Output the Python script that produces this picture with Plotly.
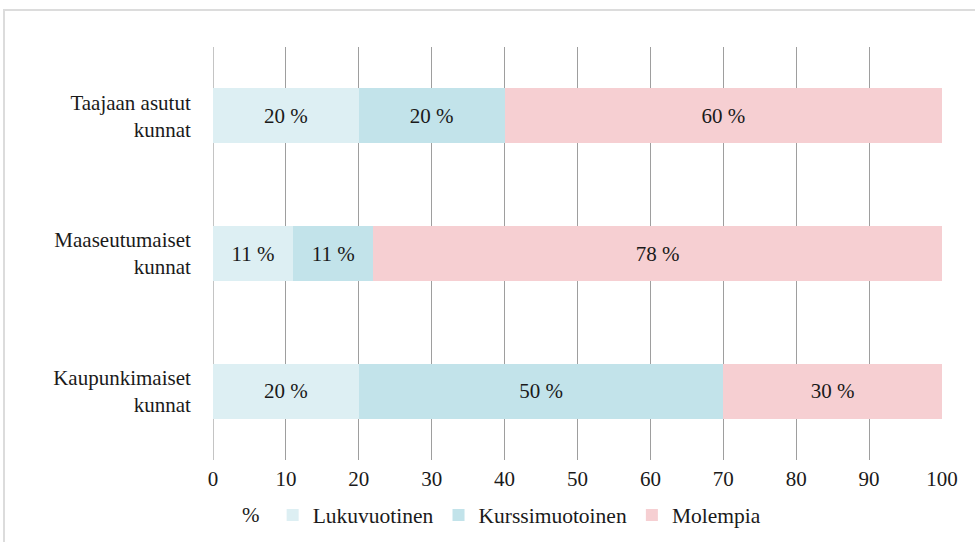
import plotly.graph_objects as go

categories = ["Kaupunkimaiset<br>kunnat", "Maaseutumaiset<br>kunnat", "Taajaan asutut<br>kunnat"]
lukuvuotinen = [20, 11, 20]
kurssimuotoinen = [50, 11, 20]
molempia = [30, 78, 60]
x_ticks = [0, 10, 20, 30, 40, 50, 60, 70, 80, 90, 100]

series = [
    ("Lukuvuotinen", lukuvuotinen, "#ddeff3"),
    ("Kurssimuotoinen", kurssimuotoinen, "#c2e3ea"),
    ("Molempia", molempia, "#f6cfd2"),
]

FONT = "Liberation Serif"
FS = 21
TXT = "#1a1a1a"

fig = go.Figure()
for name, vals, color in series:
    fig.add_trace(go.Bar(
        y=categories, x=vals, name=name, orientation="h",
        marker=dict(color=color, line=dict(width=0)),
        text=[f"{v} %" for v in vals], textposition="inside",
        insidetextanchor="middle", textangle=0,
        textfont=dict(family=FONT, size=FS, color=TXT),
        width=0.4, hoverinfo="skip",
    ))

fig.update_layout(
    barmode="stack",
    width=975, height=542,
    margin=dict(l=213, r=33, t=47, b=82, autoexpand=False),
    paper_bgcolor="white", plot_bgcolor="white",
    font=dict(family=FONT, size=FS, color=TXT),
    uniformtext=dict(minsize=8, mode="show"),
    xaxis=dict(range=[0, 100], tickvals=x_ticks, showgrid=True,
               gridcolor="#9e9e9e", gridwidth=1,
               zeroline=True, zerolinecolor="#c4c4c4", zerolinewidth=1,
               showline=False, ticks="", tickfont=dict(family=FONT, size=FS, color=TXT),
               ticklabelstandoff=4, fixedrange=True, automargin=False),
    yaxis=dict(range=[-0.5, 2.5], showgrid=False, zeroline=False, showline=False,
               ticks="outside", ticklen=17, tickcolor="rgba(0,0,0,0)",
               tickfont=dict(family=FONT, size=FS, color=TXT),
               fixedrange=True, automargin=False),
    legend=dict(orientation="h", x=0.0369, xanchor="left",
                yref="container", y=0.05, yanchor="middle",
                title=dict(text="%\u00a0", font=dict(family=FONT, size=FS, color=TXT)),
                font=dict(family=FONT, size=21.5, color=TXT),
                traceorder="normal", itemwidth=30),
    showlegend=True,
    shapes=[dict(type="rect", xref="paper", yref="paper",
                 x0=-0.2867, x1=1.2, y0=-0.4, y1=1.0896,
                 line=dict(color="#dcdcdc", width=2), layer="below")],
)

fig.write_html("out.html", config={"displayModeBar": False},
               post_script="document.body.style.margin='0';")
